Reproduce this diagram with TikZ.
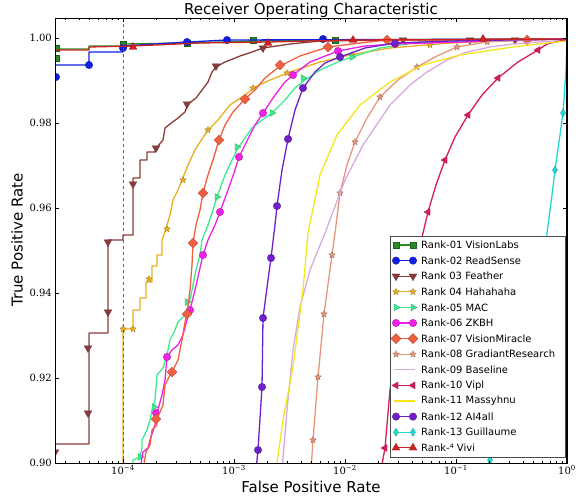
\documentclass[tikz,border=0pt]{standalone}
\usepackage{fontspec}
\setmainfont{DejaVu Sans}
\newfontfamily\tickfont{DejaVu Serif}
\usetikzlibrary{shapes.geometric}
\definecolor{rankgreen}{HTML}{2A8A2A}
\definecolor{rankblue}{HTML}{1020E0}
\definecolor{rankbrown}{HTML}{8B3A3A}
\definecolor{rankgold}{HTML}{E8B020}
\definecolor{rankspring}{HTML}{3DEB8F}
\definecolor{rankmagenta}{HTML}{F020E8}
\definecolor{ranktomato}{HTML}{F06040}
\definecolor{ranksalmon}{HTML}{E8967A}
\definecolor{rankplum}{HTML}{D8A8E0}
\definecolor{rankcrimson}{HTML}{D81B5A}
\definecolor{rankyellow}{HTML}{F5E61A}
\definecolor{rankviolet}{HTML}{7020C8}
\definecolor{rankcyan}{HTML}{20D8D8}
\definecolor{rankred}{HTML}{D02020}

\tikzset{
	curve/.style={line width=1.3pt, line join=round},
	mk/.style={inner sep=0pt, outer sep=0pt, fill=#1, draw=#1!70!black, line width=0.3pt},
	sqmark/.style={mk=#1, rectangle, minimum size=6.5pt},
	dotmark/.style={mk=#1, circle, minimum size=7.5pt},
	downmark/.style={mk=#1, regular polygon, regular polygon sides=3, shape border rotate=180, minimum size=9pt},
	upmark/.style={mk=#1, regular polygon, regular polygon sides=3, minimum size=9pt},
	rightmark/.style={mk=#1, regular polygon, regular polygon sides=3, shape border rotate=-90, minimum size=8pt},
	leftmark/.style={mk=#1, regular polygon, regular polygon sides=3, shape border rotate=90, minimum size=8pt},
	diamark/.style={mk=#1, diamond, minimum size=10pt},
	thinmark/.style={mk=#1, diamond, minimum width=5pt, minimum height=8pt},
	starmark/.style={mk=#1, star, star points=5, star point ratio=2.2, minimum size=7pt},
	nomark/.style={inner sep=0pt, minimum size=0pt},
	ticklabel/.style={font=\tickfont\fontsize{10}{12}\selectfont, inner sep=1pt},
}
\newcommand{\plotmarks}[2]{\foreach \p in {#2} {\node[#1] at \p {};}}

\begin{document}
\begin{tikzpicture}[x=1pt,y=-1pt]
	\useasboundingbox (0,0) rectangle (584,496);

	%title and axis labels
	\node[font=\fontsize{15}{18}\selectfont] (title) at (311,10) {Receiver Operating Characteristic};
	\node[font=\fontsize{15}{18}\selectfont] (xlabel) at (311,487) {False Positive Rate};
	\node[font=\fontsize{15}{18}\selectfont, rotate=90] (ylabel) at (17,240) {True Positive Rate};

	\begin{scope}
		\clip (55,18) rectangle (567,463);

		%Rank-01
		\draw[curve, rankgreen] (55,62) -- (55,49) -- (89,49) -- (89,46) -- (123,46) -- (123,44) -- (187,43) -- (253,41) -- (320,40) -- (567,39);
		\plotmarks{sqmark=rankgreen}{(56,48),(56,58),(123,44),(187,43),(253,40),(335,40)}

		%Rank-02
		\draw[curve, rankblue] (55,80) -- (55,65) -- (89,65) -- (89,52) -- (123,52) -- (123,46) -- (187,42) -- (227,40) -- (567,39);
		\plotmarks{dotmark=rankblue}{(56,77),(89,65),(123,48),(187,42),(227,40),(323,39)}

		%Rank-03
		\draw[curve, rankbrown] (55,470) -- (55,444) -- (89,444) -- (89,333) -- (108,333) -- (108,240) -- (123,240) -- (123,235) -- (133,235) -- (133,178) -- (140,178) -- (140,160) -- (147,160) -- (147,152) -- (155,152) -- (158,146) -- (163,140) -- (165,128) -- (170,124) -- (178,118) -- (185,112) -- (188,104) -- (196,98) -- (202,90) -- (208,82) -- (212,72) -- (216,67) -- (225,62) -- (240,56) -- (252,52) -- (263,48) -- (290,44) -- (320,41) -- (400,40) -- (567,39);
		\plotmarks{downmark=rankbrown}{(55,452),(88,348),(88,413),(108,312),(108,242),(133,184),(156,148),(187,104),(216,66),(263,48),(403,40),(470,40),(515,40)}

		%Rank-04
		\draw[curve, rankgold] (123,470) -- (123,329) -- (133,329) -- (133,310) -- (140,310) -- (140,298) -- (146,298) -- (146,282) -- (152,282) -- (152,266) -- (157,266) -- (157,255) -- (162,255) -- (162,240) -- (165,232) -- (167,225) -- (170,215) -- (173,200) -- (178,190) -- (182,180) -- (188,165) -- (195,150) -- (200,142) -- (208,130) -- (218,120) -- (230,105) -- (245,95) -- (255,87) -- (270,80) -- (290,72) -- (320,62) -- (350,55) -- (390,48) -- (450,43) -- (520,40) -- (567,39);
		\plotmarks{starmark=rankgold}{(123,329),(133,329),(149,279),(167,229),(183,180),(208,130),(253,88),(287,73),(352,55),(430,45)}

		%Rank-05
		\draw[curve, rankspring] (133,470) -- (133,460) -- (140,457) -- (142,448) -- (142,440) -- (147,430) -- (150,420) -- (152,410) -- (155,400) -- (157,375) -- (163,368) -- (167,355) -- (170,340) -- (175,330) -- (178,322) -- (185,315) -- (190,300) -- (192,290) -- (196,270) -- (200,255) -- (202,240) -- (208,225) -- (213,210) -- (217,197) -- (225,175) -- (232,160) -- (238,148) -- (245,138) -- (252,128) -- (262,120) -- (272,113) -- (285,100) -- (295,88) -- (305,80) -- (320,70) -- (340,61) -- (352,57) -- (380,48) -- (420,42) -- (500,40) -- (567,39);
		\plotmarks{rightmark=rankspring}{(140,457),(154,407),(187,302),(217,197),(237,147),(272,113),(303,78),(352,57)}

		%Rank-06
		\draw[curve, rankmagenta] (140,470) -- (143,452) -- (148,448) -- (150,440) -- (155,425) -- (157,413) -- (162,395) -- (165,380) -- (167,357) -- (172,350) -- (178,345) -- (183,335) -- (187,320) -- (190,310) -- (195,290) -- (200,268) -- (203,255) -- (208,240) -- (215,225) -- (220,212) -- (228,190) -- (235,170) -- (239,157) -- (245,145) -- (255,125) -- (263,113) -- (275,95) -- (285,82) -- (293,75) -- (310,62) -- (338,51) -- (365,46) -- (395,44) -- (462,42) -- (567,39);
		\plotmarks{dotmark=rankmagenta}{(156,413),(167,357),(190,310),(203,255),(220,212),(239,157),(263,113),(293,75),(338,51),(395,44)}

		%Rank-07
		\draw[curve, ranktomato] (143,470) -- (146,452) -- (150,445) -- (152,430) -- (157,425) -- (157,419) -- (163,405) -- (165,385) -- (170,375) -- (172,372) -- (178,360) -- (182,340) -- (185,322) -- (187,314) -- (190,290) -- (192,265) -- (193,243) -- (196,225) -- (200,210) -- (203,193) -- (208,175) -- (213,160) -- (219,140) -- (225,125) -- (233,112) -- (245,99) -- (255,90) -- (265,78) -- (280,66) -- (300,56) -- (328,47) -- (360,43) -- (387,40) -- (450,40) -- (567,39);
		\plotmarks{diamark=ranktomato}{(156,419),(172,372),(187,314),(193,243),(203,193),(219,140),(245,99),(280,65),(328,47),(387,40),(527,40)}

		%Rank-08
		\draw[curve, ranksalmon] (311,470) -- (313,440) -- (318,377) -- (324,314) -- (332,255) -- (335,233) -- (340,193) -- (347,165) -- (355,142) -- (367,118) -- (380,97) -- (398,80) -- (417,67) -- (437,56) -- (457,47) -- (487,42) -- (520,40) -- (567,39);
		\plotmarks{starmark=ranksalmon}{(313,440),(318,377),(324,314),(332,255),(340,193),(355,142),(380,97),(417,67),(457,47),(487,42)}

		%Rank-09
		\draw[curve, rankplum] (282,470) -- (287,410) -- (293,350) -- (300,307) -- (310,270) -- (325,233) -- (345,180) -- (363,145) -- (390,105) -- (410,85) -- (427,72) -- (447,60) -- (467,52) -- (490,47) -- (513,44) -- (540,42) -- (567,40);

		%Rank-10
		\draw[curve, rankcrimson] (381,470) -- (385,448) -- (390,390) -- (395,360) -- (405,320) -- (415,270) -- (423,233) -- (428,212) -- (436,185) -- (445,160) -- (455,137) -- (468,115) -- (482,95) -- (498,78) -- (518,62) -- (538,50) -- (547,44) -- (560,41) -- (567,40);
		\plotmarks{leftmark=rankcrimson}{(385,448),(428,212),(445,160),(468,115),(498,78),(538,50)}

		%Rank-11
		\draw[curve, rankyellow] (276,470) -- (283,420) -- (293,367) -- (303,290) -- (308,233) -- (320,175) -- (337,135) -- (360,105) -- (390,82) -- (423,65) -- (460,55) -- (513,47) -- (547,43) -- (567,41);

		%Rank-12
		\draw[curve, rankviolet] (256,470) -- (258,450) -- (262,387) -- (263,318) -- (268,280) -- (271,258) -- (275,225) -- (277,206) -- (282,170) -- (288,139) -- (295,110) -- (303,88) -- (315,72) -- (325,63) -- (340,57) -- (365,48) -- (395,43) -- (450,41) -- (567,39);
		\plotmarks{dotmark=rankviolet}{(258,450),(262,387),(263,318),(271,258),(277,206),(288,139),(303,88),(340,57),(395,43)}

		%Rank-13
		\draw[curve, rankcyan] (486,470) -- (520,380) -- (545,245) -- (547,233) -- (552,195) -- (555,170) -- (560,135) -- (563,113) -- (566,70) -- (567,40);
		\plotmarks{thinmark=rankcyan}{(490,460),(555,170),(563,113)}

		%Rank-14
		\draw[curve, rankred] (55,50) -- (89,50) -- (89,47) -- (133,46) -- (200,43) -- (268,42) -- (353,40) -- (567,39);
		\plotmarks{upmark=rankred}{(133,47),(268,43),(353,40),(483,39)}

		%minor ticks
		\foreach \d in {-5,...,-1}
		\foreach \m in {2,...,9} {
			\pgfmathsetmacro\xx{567+111*(\d+log10(\m))}
			\draw[line width=0.5pt] (\xx,463) -- (\xx,461) (\xx,18) -- (\xx,20);
		}
	\end{scope}

	%10^-4 marker line
	\draw[black!60, dashed, line width=0.6pt] (123,18) -- (123,463);

	%axes frame
	\draw[line width=0.8pt] (55,18) rectangle (567,463);
	\draw[line width=1.8pt] (567,18) -- (567,463);
	\foreach \yy/\v [count=\i] in {38/1.00,123/0.98,208/0.96,293/0.94,378/0.92,463/0.90} {
		\draw[line width=0.6pt] (55,\yy) -- (59,\yy) (567,\yy) -- (563,\yy);
		\node[ticklabel, anchor=east] (ytick\i) at (53,\yy) {\v};
	}
	\foreach \xx/\e [count=\i] in {123/−4,234/−3,345/−2,456/−1,567/0} {
		\draw[line width=0.6pt] (\xx,463) -- (\xx,459) (\xx,18) -- (\xx,22);
		\node[ticklabel, anchor=north] (xtick\i) at (\xx,464) {10\textsuperscript{\e}};
	}

	%legend
	\draw[black!70, fill=white, line width=0.6pt] (390,236) rectangle (565,457);
	\foreach \lbl/\col/\mk [count=\i] in {
			Rank-01 VisionLabs/rankgreen/sqmark,
			Rank-02 ReadSense/rankblue/dotmark,
			Rank 03 Feather/rankbrown/downmark,
			Rank 04 Hahahaha/rankgold/starmark,
			Rank-05 MAC/rankspring/rightmark,
			Rank-06 ZKBH/rankmagenta/dotmark,
			Rank-07 VisionMiracle/ranktomato/diamark,
			Rank-08 GradiantResearch/ranksalmon/starmark,
			Rank-09 Baseline/rankplum/nomark,
			Rank-10 Vipl/rankcrimson/leftmark,
			Rank-11 Massyhnu/rankyellow/nomark,
			Rank-12 AI4all/rankviolet/dotmark,
			Rank-13 Guillaume/rankcyan/thinmark,
			Rank-⁴ Vivi/rankred/upmark} {
		\pgfmathsetmacro\yy{245+(\i-1)*15.6}
		\draw[curve, \col] (394,\yy) -- (415,\yy);
		\node[\mk=\col] at (396,\yy) {};
		\node[\mk=\col] at (413,\yy) {};
		\node[anchor=west, font=\fontsize{10}{12}\selectfont, inner sep=0pt] (leg\i) at (421,\yy) {\lbl};
	}
\end{tikzpicture}
\end{document}
